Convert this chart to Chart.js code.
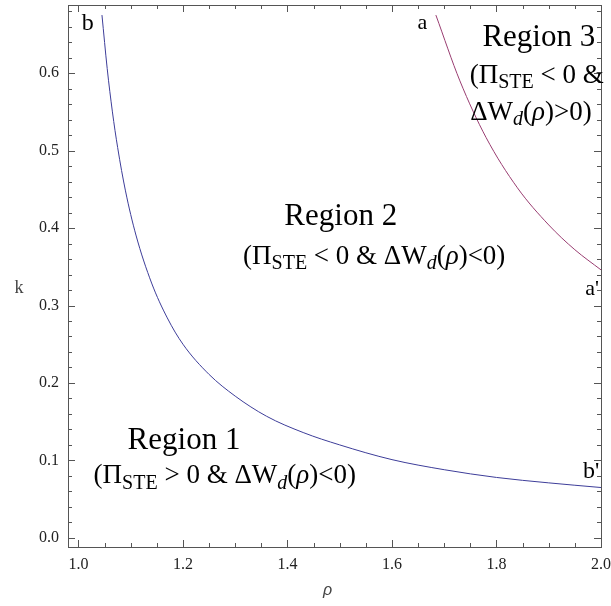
<!DOCTYPE html>
<html>
<head>
<meta charset="utf-8">
<script src="https://cdn.jsdelivr.net/npm/chart.js@4.4.0/dist/chart.umd.min.js"></script>
<style>
  html, body { margin: 0; padding: 0; background: #fff; }
  #wrap { width: 611px; height: 606px; position: relative; }
</style>
</head>
<body>
<div id="wrap"><canvas id="c" width="611" height="606"></canvas></div>
<script>
// ---- data ----
const curveBRho = [1.045, 1.055, 1.065, 1.075, 1.090, 1.110, 1.140, 1.170, 1.200, 1.250, 1.300, 1.360, 1.430, 1.500, 1.600, 1.700, 1.800, 1.900, 2.000];
const curveBK   = [0.675, 0.606, 0.550, 0.504, 0.448, 0.391, 0.329, 0.284, 0.250, 0.211, 0.183, 0.157, 0.136, 0.120, 0.101, 0.088, 0.078, 0.071, 0.065];
const curveARho = [1.684, 1.730, 1.780, 1.840, 1.900, 1.950, 2.000];
const curveAK   = [0.675, 0.590, 0.517, 0.452, 0.404, 0.372, 0.346];
const xTickLabels = ['1.0', '1.2', '1.4', '1.6', '1.8', '2.0'];
const yTickLabels = ['0.0', '0.1', '0.2', '0.3', '0.4', '0.5', '0.6'];
const xTitle = 'ρ';
const yTitle = 'k';

// text annotations placed in data coordinates
const notes = [
  { x: 1.018, y: 0.656, size: 24, parts: [{ t: 'b' }] },
  { x: 1.658, y: 0.657, size: 22, parts: [{ t: 'a' }] },
  { x: 1.983, y: 0.313, size: 22, parts: [{ t: "a'" }] },
  { x: 1.981, y: 0.077, size: 24, parts: [{ t: "b'" }] },
  { x: 1.202, y: 0.1146, size: 31, parts: [{ t: 'Region 1' }] },
  { x: 1.280, y: 0.0707, size: 27, parts: [{ t: '(Π' }, { t: 'STE', sub: true }, { t: ' > 0 & ΔW' }, { t: 'd', sub: true, it: true }, { t: '(' }, { t: 'ρ', it: true }, { t: ')<0)' }] },
  { x: 1.502, y: 0.4039, size: 31, parts: [{ t: 'Region 2' }] },
  { x: 1.566, y: 0.3535, size: 27, parts: [{ t: '(Π' }, { t: 'STE', sub: true }, { t: ' < 0 & ΔW' }, { t: 'd', sub: true, it: true }, { t: '(' }, { t: 'ρ', it: true }, { t: ')<0)' }] },
  { x: 1.881, y: 0.635, size: 31, parts: [{ t: 'Region 3' }] },
  { x: 1.877, y: 0.5873, size: 27, parts: [{ t: '(Π' }, { t: 'STE', sub: true }, { t: ' < 0 &' }] },
  { x: 1.866, y: 0.5395, size: 27, parts: [{ t: 'ΔW' }, { t: 'd', sub: true, it: true }, { t: '(' }, { t: 'ρ', it: true }, { t: ')>0)' }] }
];

const toPts = (xs, ys) => xs.map((v, i) => ({ x: v, y: ys[i] }));
const SERIF = '"Liberation Serif", "Times New Roman", serif';

function partFont(p, size) {
  const s = p.sub ? Math.round(size * 0.74) : size;
  return (p.it ? 'italic ' : '') + s + 'px ' + SERIF;
}

const framePlugin = {
  id: 'framePlugin',
  afterDraw(chart) {
    const ctx = chart.ctx;
    const a = chart.chartArea;
    const xs = chart.scales.x, ys = chart.scales.y;
    ctx.save();
    ctx.strokeStyle = '#555';
    ctx.lineWidth = 1;
    // frame
    ctx.strokeRect(Math.round(a.left) + 0.5, Math.round(a.top) + 0.5, Math.round(a.right - a.left), Math.round(a.bottom - a.top));
    // ticks inward on all four sides
    ctx.beginPath();
    const major = 7, minor = 4;
    for (let i = 0; i <= 25; i++) {
      const v = 0.95 + i * 0.05;
      if (v < xs.min - 1e-9 || v > xs.max + 1e-9) continue;
      const px = Math.round(xs.getPixelForValue(v)) + 0.5;
      const isMaj = Math.abs(Math.round(v * 5) - v * 5) < 1e-6;
      const L = isMaj ? major : minor;
      ctx.moveTo(px, a.bottom); ctx.lineTo(px, a.bottom - L);
      ctx.moveTo(px, a.top); ctx.lineTo(px, a.top + L);
    }
    for (let i = 0; i <= 40; i++) {
      const v = -0.02 + i * 0.02;
      if (v < ys.min - 1e-9 || v > ys.max + 1e-9) continue;
      const py = Math.round(ys.getPixelForValue(v)) + 0.5;
      const isMaj = Math.abs(Math.round(v * 10) - v * 10) < 1e-6;
      const L = isMaj ? major : minor;
      ctx.moveTo(a.left, py); ctx.lineTo(a.left + L, py);
      ctx.moveTo(a.right, py); ctx.lineTo(a.right - L, py);
    }
    ctx.stroke();

    // axis titles
    ctx.fillStyle = '#444';
    ctx.textAlign = 'center';
    ctx.textBaseline = 'middle';
    ctx.font = '18px ' + SERIF;
    ctx.fillText(yTitle, 19, ys.getPixelForValue(0.322));
    ctx.font = 'italic 16px "Liberation Sans", Arial, sans-serif';
    ctx.fillText(xTitle, xs.getPixelForValue(1.477), 591);

    // annotations with subscripts
    ctx.fillStyle = '#000';
    ctx.textBaseline = 'alphabetic';
    ctx.textAlign = 'left';
    notes.forEach(n => {
      let w = 0;
      n.parts.forEach(p => { ctx.font = partFont(p, n.size); w += ctx.measureText(p.t).width; });
      let cx = xs.getPixelForValue(n.x) - w / 2;
      const by = ys.getPixelForValue(n.y);
      n.parts.forEach(p => {
        ctx.font = partFont(p, n.size);
        ctx.fillText(p.t, cx, by + (p.sub ? n.size * 0.2 : 0));
        cx += ctx.measureText(p.t).width;
      });
    });
    ctx.restore();
  }
};

new Chart(document.getElementById('c'), {
  type: 'scatter',
  data: {
    datasets: [
      { data: toPts(curveBRho, curveBK), showLine: true, borderColor: '#3d3d99', borderWidth: 1, pointRadius: 0, cubicInterpolationMode: 'monotone', fill: false },
      { data: toPts(curveARho, curveAK), showLine: true, borderColor: '#993d71', borderWidth: 1, pointRadius: 0, cubicInterpolationMode: 'monotone', fill: false }
    ]
  },
  options: {
    responsive: false,
    animation: false,
    devicePixelRatio: 1,
    layout: { padding: { top: 5, right: 10, left: 0, bottom: 0 } },
    plugins: { legend: { display: false }, tooltip: { enabled: false } },
    scales: {
      x: {
        type: 'linear', min: 0.98, max: 2.0,
        grid: { display: false, drawTicks: false },
        border: { display: false },
        ticks: {
          stepSize: 0.2, includeBounds: false, padding: 8, color: '#222', maxRotation: 0, autoSkip: false,
          font: { family: SERIF, size: 16 },
          callback: (v) => { const i = Math.round((v - 1.0) / 0.2); return (i >= 0 && i < xTickLabels.length && Math.abs(v - (1 + i * 0.2)) < 1e-6) ? xTickLabels[i] : null; }
        },
        afterFit: (s) => { s.height = 59; s.paddingLeft = 0; s.paddingRight = 0; }
      },
      y: {
        type: 'linear', min: -0.0118, max: 0.688,
        grid: { display: false, drawTicks: false },
        border: { display: false },
        ticks: {
          stepSize: 0.1, includeBounds: false, padding: 9, color: '#222', autoSkip: false,
          font: { family: SERIF, size: 16 },
          callback: (v) => { const i = Math.round(v / 0.1); return (i >= 0 && i < yTickLabels.length && Math.abs(v - i * 0.1) < 1e-6) ? yTickLabels[i] : null; }
        },
        afterFit: (s) => { s.width = 68; s.paddingTop = 0; s.paddingBottom = 0; }
      }
    }
  },
  plugins: [framePlugin]
});
</script>
</body>
</html>
